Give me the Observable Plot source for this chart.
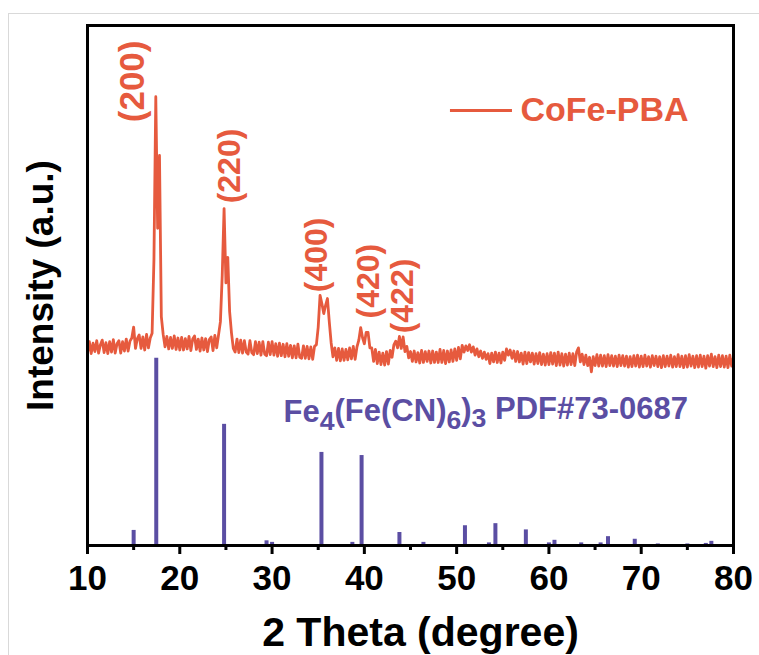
<!DOCTYPE html>
<html>
<head>
<meta charset="utf-8">
<script src="https://cdn.jsdelivr.net/npm/d3@7"></script>
<script src="https://cdn.jsdelivr.net/npm/@observablehq/plot@0.6"></script>
<style>
  html, body { margin: 0; padding: 0; background: #fff; }
  #wrap { position: relative; width: 759px; height: 655px; overflow: hidden; }
  #edge { position: absolute; left: 8px; top: 13px; right: 0; bottom: 0; border-left: 1px solid #d9d9d9; border-top: 1px solid #d9d9d9; pointer-events: none; }
  #chart svg { display: block; }
</style>
</head>
<body>
<div id="wrap"><div id="chart"></div><div id="edge"></div></div>
<script>
// ---- CoFe-PBA measured pattern (scan from 10° to 80°, step 0.2°) ----
const scanStart = 10;
const scanStep = 0.2;
const cofeIntensity = [
  37.0, 39.2, 36.9, 38.9, 37.3, 39.4, 37.0, 38.6, 39.5, 37.1,
  39.0, 36.9, 39.2, 37.2, 39.6, 37.0, 38.8, 39.4, 37.0, 39.2,
  37.4, 39.7, 37.4, 39.3, 39.9, 42.0, 37.9, 39.8, 40.5, 37.9,
  40.1, 37.6, 40.6, 38.0, 39.9, 40.8, 55.0, 86.3, 61.0, 75.0,
  44.0, 40.6, 38.2, 40.2, 37.8, 40.0, 37.9, 40.3, 37.7, 39.9,
  37.6, 40.0, 37.6, 39.8, 37.8, 40.2, 37.5, 39.7, 40.3, 37.7,
  39.7, 37.4, 39.9, 37.6, 39.8, 37.3, 39.6, 40.1, 37.5, 40.4,
  38.0, 40.5, 43.0, 52.0, 64.8, 50.5, 55.4, 45.0, 40.9, 37.9,
  37.2, 39.7, 37.1, 39.5, 37.0, 39.4, 37.2, 36.8, 39.4, 37.1,
  36.7, 39.2, 36.9, 39.1, 36.6, 39.2, 36.8, 36.5, 39.1, 36.7,
  39.2, 36.6, 38.8, 36.4, 38.9, 36.5, 38.7, 36.3, 38.8, 36.4,
  38.5, 36.1, 38.4, 36.1, 38.7, 36.2, 36.0, 38.4, 36.0, 38.3,
  35.9, 38.2, 35.8, 38.3, 38.6, 42.0, 48.1, 46.5, 44.6, 46.2,
  47.5, 43.0, 39.0, 36.3, 38.0, 35.6, 37.9, 35.5, 37.8, 35.6,
  37.7, 35.7, 38.0, 35.9, 38.3, 35.8, 38.2, 39.5, 41.9, 40.0,
  38.8, 41.0, 41.0, 38.0, 38.0, 35.4, 37.7, 35.0, 37.2, 34.8,
  37.0, 34.7, 37.3, 34.9, 37.5, 36.2, 38.6, 39.3, 38.0, 40.2,
  37.9, 40.1, 37.3, 38.3, 36.1, 37.3, 35.4, 37.4, 35.3, 37.1,
  35.1, 37.5, 35.2, 37.3, 35.4, 37.4, 35.1, 37.4, 35.2, 37.2,
  35.2, 37.7, 35.2, 37.5, 35.0, 37.4, 35.3, 37.6, 35.4, 37.8,
  35.6, 38.1, 35.9, 38.5, 37.2, 38.4, 37.5, 38.6, 37.2, 38.2,
  36.6, 37.8, 36.3, 37.4, 36.0, 37.2, 35.8, 36.9, 35.0, 37.0,
  35.3, 37.2, 35.2, 37.0, 35.1, 37.2, 35.6, 37.8, 36.6, 37.6,
  36.0, 37.4, 35.4, 37.3, 35.3, 37.0, 34.9, 37.2, 35.0, 37.1,
  35.3, 37.0, 34.9, 36.9, 35.0, 37.1, 34.8, 36.8, 34.7, 36.9,
  34.8, 37.1, 34.9, 37.0, 34.6, 37.2, 34.7, 36.9, 34.5, 36.8,
  34.7, 37.0, 34.8, 36.9, 34.6, 37.2, 38.0, 35.3, 36.8, 34.8,
  36.6, 34.6, 36.2, 33.4, 36.3, 34.6, 36.7, 34.5, 36.6, 34.5,
  36.5, 34.4, 36.7, 34.6, 36.5, 34.5, 36.4, 34.4, 36.6, 34.6,
  36.5, 34.5, 36.4, 34.3, 36.3, 34.4, 36.5, 34.5, 36.6, 34.3,
  36.4, 34.4, 36.6, 34.5, 36.3, 34.3, 36.5, 34.6, 36.4, 34.4,
  36.3, 34.2, 36.5, 34.4, 36.4, 34.5, 36.6, 34.3, 36.3, 34.4,
  36.7, 34.4, 36.4, 34.2, 36.5, 34.3, 36.7, 34.5, 36.4, 34.2,
  36.5, 34.3, 36.6, 34.4, 36.4, 34.1, 36.5, 34.5, 36.8, 34.4,
  36.3, 34.2, 36.6, 34.4, 36.5, 34.3, 36.4, 34.2, 36.6, 34.5,
  36.2
];

// ---- Reference card Fe4(Fe(CN)6)3 PDF#73-0687 ----
const pdfTwoTheta = [15.0, 17.45, 24.8, 29.4, 30.0, 35.35, 38.7, 39.7, 43.8, 46.4, 50.9, 53.5, 54.2, 57.5, 60.0, 60.6, 63.5, 65.6, 66.4, 69.3, 71.8, 75.0, 77.0, 77.6];
const pdfIntensity = [2.9, 36.0, 23.3, 0.9, 0.6, 17.9, 0.6, 17.3, 2.5, 0.6, 3.8, 0.5, 4.2, 3.0, 0.5, 1.0, 0.5, 0.5, 1.7, 1.2, 0.3, 0.3, 0.4, 0.8];

// ---- Peak (hkl) annotations, anchored in data coordinates ----
const hklLabels = ["(200)", "(220)", "(400)", "(420)", "(422)"];
const hklX = [14.95, 25.39, 34.81, 40.45, 44.13];
const hklY = [81.4, 65.8, 48.7, 43.65, 40.8];

// ---- Axis ticks ----
const majorTicks = [10, 20, 30, 40, 50, 60, 70, 80];
const minorTicks = [15, 25, 35, 45, 55, 65, 75];

const seriesName = "CoFe-PBA";
const refName = "Fe4(Fe(CN)6)3 PDF#73-0687";
const xTitle = "2 Theta (degree)";
const yTitle = "Intensity (a.u.)";

const ORANGE = "#e65a3e";
const PURPLE = "#5b4ea3";

const cofe = cofeIntensity.map((v, i) => ({x: +(scanStart + i * scanStep).toFixed(2), y: v}));
const pdf = pdfTwoTheta.map((x, i) => ({x, y: pdfIntensity[i]}));
const hkl = hklLabels.map((t, i) => ({t, x: hklX[i], y: hklY[i]}));

const chart = Plot.plot({
  width: 759,
  height: 655,
  marginLeft: 87,
  marginRight: 26,
  marginTop: 25,
  marginBottom: 110,
  style: {fontFamily: "'Liberation Sans', Arial, Helvetica, sans-serif", fontWeight: "bold", background: "white", overflow: "visible"},
  x: {domain: [10, 80]},
  y: {domain: [0, 100], axis: null},
  marks: [
    Plot.ruleX(pdf, {x: "x", y1: 0, y2: "y", stroke: PURPLE, strokeWidth: 4}),
    Plot.line(cofe, {x: "x", y: "y", stroke: ORANGE, strokeWidth: 2.8, strokeLinejoin: "round"}),
    Plot.text(hkl, {x: "x", y: "y", text: "t", rotate: -90, textAnchor: "start", lineAnchor: "middle", fill: ORANGE, fontSize: d => (d.t === "(200)" ? 35 : 32)}),
    Plot.ruleY([83.65], {x1: 49.33, x2: 56.05, stroke: ORANGE, strokeWidth: 3}),
    Plot.text([seriesName], {x: 56.92, y: 83.65, textAnchor: "start", lineAnchor: "middle", fill: ORANGE, fontSize: 34}),
    Plot.text([refName], {x: 31.24, y: 25.6, textAnchor: "start", lineAnchor: "middle", fill: PURPLE, fontSize: 31}),
    Plot.frame({stroke: "black", strokeWidth: 3}),
    Plot.axisX(majorTicks, {anchor: "bottom", tickSize: 9, tickPadding: 11, strokeWidth: 3, fontSize: 35, label: null, tickFormat: d => String(d)}),
    Plot.axisX(minorTicks, {anchor: "bottom", tickSize: 5, strokeWidth: 3, label: null, tickFormat: () => ""}),
    Plot.text([xTitle], {frameAnchor: "bottom", lineAnchor: "middle", textAnchor: "middle", dy: 87, dx: 10, fontSize: 41, fill: "black"}),
    Plot.text([yTitle], {frameAnchor: "left", lineAnchor: "middle", textAnchor: "middle", rotate: -90, dx: -46, fontSize: 37, fill: "black"})
  ]
});

// Subscripts in the reference-card formula
d3.select(chart).selectAll("text").each(function () {
  if (this.textContent === refName) {
    const el = d3.select(this);
    el.text(null);
    const parts = [["Fe", 0], ["4", 1], ["(Fe(CN)", 0], ["6", 1], [")", 0], ["3", 1], [" PDF#73-0687", 0]];
    let shifted = false;
    for (const [s, sub] of parts) {
      const ts = el.append("tspan").text(s);
      if (sub && !shifted) { ts.attr("dy", "0.28em").attr("font-size", "86%"); shifted = true; }
      else if (sub && shifted) { ts.attr("font-size", "86%"); }
      else if (!sub && shifted) { ts.attr("dy", "-0.28em"); shifted = false; }
    }
    el.attr("xml:space", "preserve").style("white-space", "pre");
  }
});

document.getElementById("chart").appendChild(chart);
</script>
</body>
</html>
